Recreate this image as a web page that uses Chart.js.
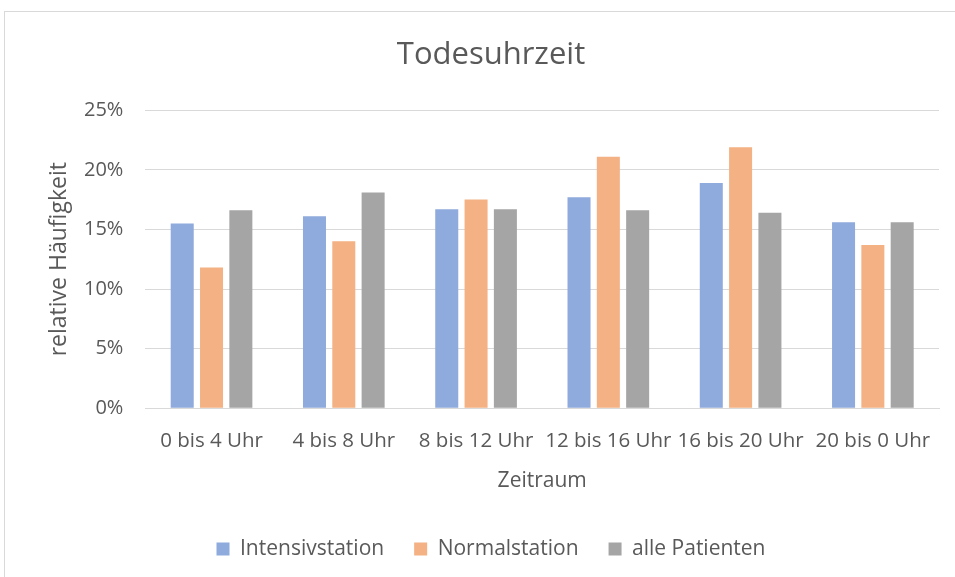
<!DOCTYPE html>
<html>
<head>
<meta charset="utf-8">
<script src="https://cdn.jsdelivr.net/npm/chart.js@4.4.0/dist/chart.umd.min.js"></script>
<style>
  html, body { margin: 0; padding: 0; background: #fff; overflow: hidden; }
  #box {
    position: absolute; left: 4px; top: 11px;
    width: 972px; height: 585px;
    border: 1px solid #d9d9d9; box-sizing: border-box;
  }
</style>
</head>
<body>
<div id="box"><canvas id="myChart"></canvas></div>
<script>
// data
const zeitraum = ['0 bis 4 Uhr', '4 bis 8 Uhr', '8 bis 12 Uhr', '12 bis 16 Uhr', '16 bis 20 Uhr', '20 bis 0 Uhr'];
const intensivstation = [15.5, 16.1, 16.7, 17.7, 18.9, 15.6];
const normalstation = [11.8, 14.0, 17.5, 21.1, 21.9, 13.7];
const allePatienten = [16.6, 18.1, 16.7, 16.6, 16.4, 15.6];
const yTicks = [0, 5, 10, 15, 20, 25];

const textColor = '#595959';
const fontName = "'Open Sans', sans-serif";

var ctx = document.getElementById('myChart').getContext('2d');
var chart = new Chart(ctx, {
    type: 'bar',
    data: {
        labels: zeitraum,
        datasets: [{
            label: 'Intensivstation',
            backgroundColor: '#8faadc',
            data: intensivstation
        }, {
            label: 'Normalstation',
            backgroundColor: '#f4b183',
            data: normalstation
        }, {
            label: 'alle Patienten',
            backgroundColor: '#a5a5a5',
            data: allePatienten
        }]
    },
    options: {
        responsive: true,
        maintainAspectRatio: false,
        animation: false,
        datasets: {
            bar: { categoryPercentage: 0.665, barPercentage: 0.785 }
        },
        layout: { padding: { left: 38, right: 36, top: 0, bottom: 25.5 } },
        plugins: {
            title: {
                display: true,
                text: 'Todesuhrzeit',
                color: textColor,
                font: { family: fontName, size: 31, weight: 'normal' },
                padding: { top: 25, bottom: 36 }
            },
            legend: {
                position: 'bottom',
                labels: {
                    color: textColor,
                    font: { family: fontName, size: 21 },
                    boxWidth: 13, boxHeight: 13,
                    padding: 30
                }
            },
            tooltip: { enabled: false }
        },
        scales: {
            x: {
                grid: { display: false },
                border: { color: '#d9d9d9' },
                ticks: { color: textColor, font: { family: fontName, size: 20.5 }, maxRotation: 0, autoSkip: false, padding: 13 },
                title: {
                    display: true, text: 'Zeitraum', color: textColor,
                    font: { family: fontName, size: 21 },
                    padding: { top: 2, bottom: 14.5 }
                }
            },
            y: {
                min: 0, max: 25,
                afterBuildTicks: (axis) => { axis.ticks = yTicks.map(v => ({ value: v })); },
                grid: { color: '#d9d9d9', drawTicks: false },
                border: { display: false },
                ticks: {
                    color: textColor, padding: 22,
                    font: { family: fontName, size: 20 },
                    callback: (v) => v + '%'
                },
                title: {
                    display: true, text: 'relative Häufigkeit', color: textColor,
                    font: { family: fontName, size: 23 },
                    padding: { top: 2.2, bottom: -10.8 }
                }
            }
        }
    }
});
</script>
</body>
</html>
